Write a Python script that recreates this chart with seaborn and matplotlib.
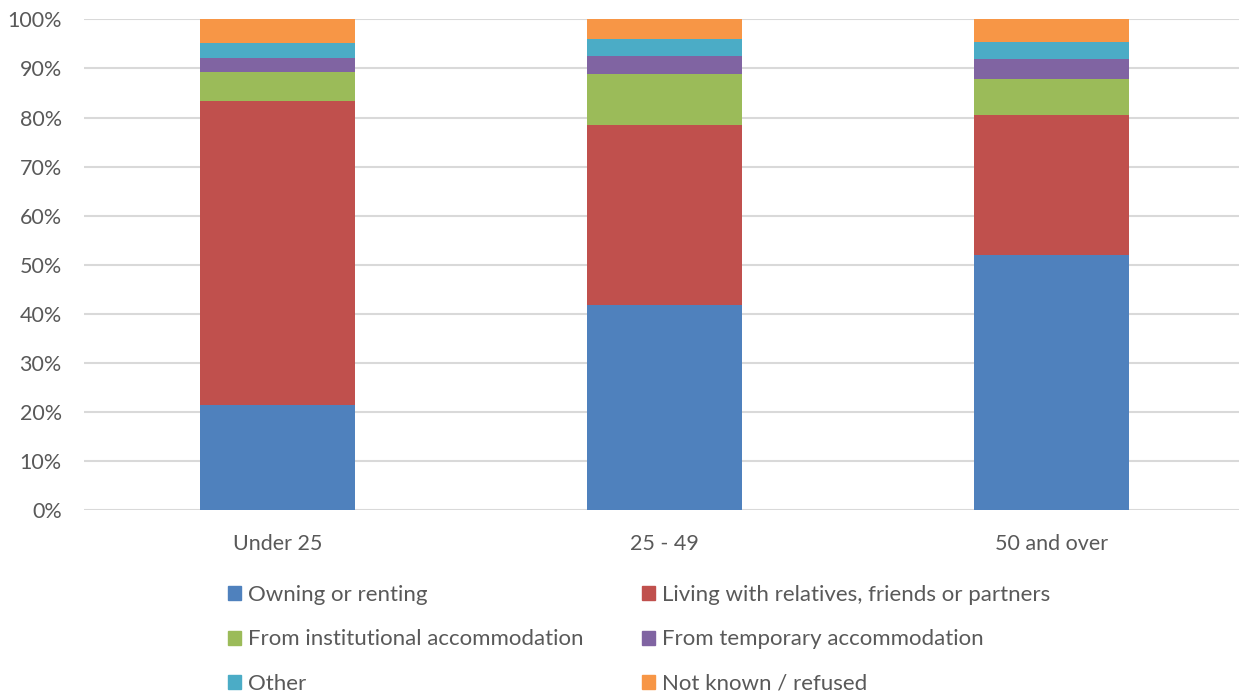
import matplotlib
matplotlib.use("Agg")
import matplotlib.pyplot as plt
import matplotlib.patches as mpatches
import numpy as np
import pandas as pd
import seaborn as sns

# Share of people by previous housing situation, per age band (percent)
age_groups = ["Under 25", "25 - 49", "50 and over"]
owning_renting = [21.4, 41.9, 51.9]
living_with_others = [61.9, 36.5, 28.7]
institutional = [5.9, 10.5, 7.2]
temporary = [3.0, 3.6, 4.1]
other = [3.0, 3.6, 3.6]
not_known = [4.8, 3.9, 4.5]

series_names = [
    "Owning or renting",
    "Living with relatives, friends or partners",
    "From institutional accommodation",
    "From temporary accommodation",
    "Other",
    "Not known / refused",
]
series_values = [owning_renting, living_with_others, institutional,
                 temporary, other, not_known]
colors = ["#4F81BD", "#C0504D", "#9BBB59", "#8064A2", "#4BACC6", "#F79646"]

sns.set_theme(style="white")
plt.rcParams["font.family"] = ["Lato", "DejaVu Sans"]
text_color = "#595959"

df = pd.DataFrame({name: vals for name, vals in zip(series_names, series_values)})
df["age"] = age_groups
cum = df[series_names].cumsum(axis=1)

fig = plt.figure(figsize=(12.42, 6.94), dpi=100)
ax = fig.add_axes([0.0676, 0.265, 0.93, 0.707])

# Stacked bars: draw cumulative totals from the top layer down
for name, color in reversed(list(zip(series_names, colors))):
    sns.barplot(x=df["age"], y=cum[name], color=color, width=0.4,
                saturation=1, ax=ax, zorder=3, linewidth=0)

ax.set_ylim(0, 100)
ax.set_xlim(-0.5, 2.485)
ax.set_yticks(np.arange(0, 101, 10))
ax.set_yticklabels([f"{v}%" for v in range(0, 101, 10)])
ax.yaxis.grid(True, color="#D9D9D9", linewidth=1.5, zorder=0)
ax.set_axisbelow(True)
for s in ax.spines.values():
    s.set_visible(False)
ax.tick_params(axis="both", length=0, labelsize=15.5, colors=text_color)
ax.tick_params(axis="x", pad=17)
ax.tick_params(axis="y", pad=16)
ax.set_xlabel("")
ax.set_ylabel("")

# Legend laid out row by row in two columns
handles = [mpatches.Patch(color=c, label=n) for n, c in zip(series_names, colors)]
order = [0, 2, 4, 1, 3, 5]
fig.legend(handles=[handles[i] for i in order], ncol=2, loc="upper left",
           bbox_to_anchor=(0.1836, 0.157), frameon=False,
           fontsize=16, labelcolor=text_color,
           handlelength=0.6, handleheight=0.6, handletextpad=0.28,
           columnspacing=2.65, labelspacing=1.1, borderaxespad=0, borderpad=0)

fig.savefig("out.png", dpi=100)
